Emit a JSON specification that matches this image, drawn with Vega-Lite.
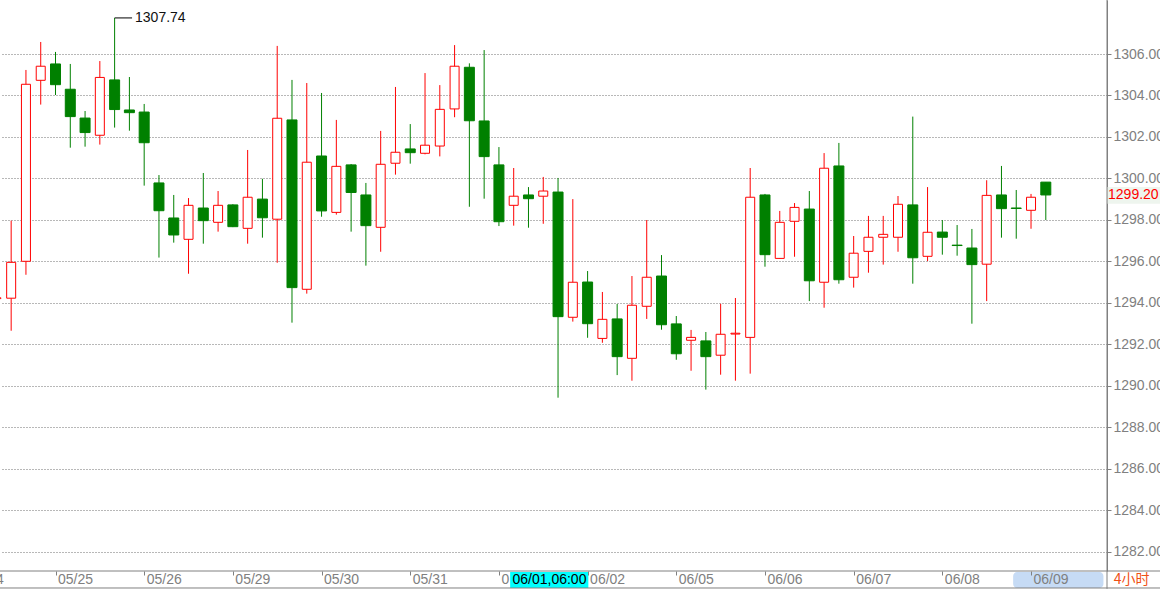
{
  "$schema": "https://vega.github.io/schema/vega-lite/v6.json",
  "width": 1107,
  "height": 571,
  "autosize": {"type": "none"},
  "padding": {"left": 0, "top": 0, "right": 53, "bottom": 18},
  "background": "white",
  "config": {"view": {"stroke": null}, "font": "Liberation Sans"},
  "datasets": {
    "candles": [
      {"i": -4, "o": 1294.20, "h": 1294.40, "l": 1294.00, "c": 1294.24},
      {"i": -3, "o": 1294.22, "h": 1297.96, "l": 1292.65, "c": 1295.95},
      {"i": -2, "o": 1296.00, "h": 1305.23, "l": 1295.35, "c": 1304.54},
      {"i": -1, "o": 1304.73, "h": 1306.58, "l": 1303.56, "c": 1305.41},
      {"i": 0, "o": 1305.52, "h": 1306.10, "l": 1304.02, "c": 1304.52},
      {"i": 1, "o": 1304.30, "h": 1305.52, "l": 1301.48, "c": 1302.98},
      {"i": 2, "o": 1302.91, "h": 1303.25, "l": 1301.53, "c": 1302.21},
      {"i": 3, "o": 1302.08, "h": 1305.66, "l": 1301.63, "c": 1304.87},
      {"i": 4, "o": 1304.75, "h": 1307.74, "l": 1302.45, "c": 1303.32},
      {"i": 5, "o": 1303.30, "h": 1304.89, "l": 1302.30, "c": 1303.17},
      {"i": 6, "o": 1303.20, "h": 1303.59, "l": 1299.65, "c": 1301.72},
      {"i": 7, "o": 1299.78, "h": 1300.16, "l": 1296.18, "c": 1298.44},
      {"i": 8, "o": 1298.09, "h": 1299.20, "l": 1296.90, "c": 1297.27},
      {"i": 9, "o": 1297.06, "h": 1299.05, "l": 1295.40, "c": 1298.70},
      {"i": 10, "o": 1298.57, "h": 1300.26, "l": 1296.85, "c": 1297.96},
      {"i": 11, "o": 1297.88, "h": 1299.39, "l": 1297.43, "c": 1298.70},
      {"i": 12, "o": 1298.72, "h": 1298.75, "l": 1297.65, "c": 1297.67},
      {"i": 13, "o": 1297.59, "h": 1301.37, "l": 1296.85, "c": 1299.09},
      {"i": 14, "o": 1299.00, "h": 1299.98, "l": 1297.14, "c": 1298.10},
      {"i": 15, "o": 1298.03, "h": 1306.39, "l": 1295.93, "c": 1302.90},
      {"i": 16, "o": 1302.82, "h": 1304.75, "l": 1293.04, "c": 1294.73},
      {"i": 17, "o": 1294.65, "h": 1304.60, "l": 1294.44, "c": 1300.78},
      {"i": 18, "o": 1301.08, "h": 1304.12, "l": 1298.15, "c": 1298.43},
      {"i": 19, "o": 1298.36, "h": 1302.82, "l": 1298.25, "c": 1300.58},
      {"i": 20, "o": 1300.65, "h": 1300.69, "l": 1297.43, "c": 1299.32},
      {"i": 21, "o": 1299.20, "h": 1299.78, "l": 1295.79, "c": 1297.72},
      {"i": 22, "o": 1297.64, "h": 1302.29, "l": 1296.46, "c": 1300.68},
      {"i": 23, "o": 1300.73, "h": 1304.41, "l": 1300.18, "c": 1301.26},
      {"i": 24, "o": 1301.42, "h": 1302.62, "l": 1300.71, "c": 1301.24},
      {"i": 25, "o": 1301.21, "h": 1305.08, "l": 1301.16, "c": 1301.60},
      {"i": 26, "o": 1301.56, "h": 1304.50, "l": 1301.06, "c": 1303.33},
      {"i": 27, "o": 1303.35, "h": 1306.43, "l": 1302.95, "c": 1305.41},
      {"i": 28, "o": 1305.36, "h": 1305.55, "l": 1298.63, "c": 1302.78},
      {"i": 29, "o": 1302.77, "h": 1306.19, "l": 1299.02, "c": 1301.05},
      {"i": 30, "o": 1300.65, "h": 1301.51, "l": 1297.70, "c": 1297.91},
      {"i": 31, "o": 1298.70, "h": 1300.50, "l": 1297.72, "c": 1299.14},
      {"i": 32, "o": 1299.20, "h": 1299.58, "l": 1297.62, "c": 1299.02},
      {"i": 33, "o": 1299.14, "h": 1300.07, "l": 1297.81, "c": 1299.39},
      {"i": 34, "o": 1299.34, "h": 1300.02, "l": 1289.42, "c": 1293.33},
      {"i": 35, "o": 1293.30, "h": 1299.00, "l": 1293.09, "c": 1294.99},
      {"i": 36, "o": 1295.00, "h": 1295.53, "l": 1292.31, "c": 1292.99},
      {"i": 37, "o": 1292.28, "h": 1294.52, "l": 1292.07, "c": 1293.20},
      {"i": 38, "o": 1293.22, "h": 1293.94, "l": 1290.51, "c": 1291.40},
      {"i": 39, "o": 1291.32, "h": 1295.29, "l": 1290.24, "c": 1293.88},
      {"i": 40, "o": 1293.83, "h": 1297.99, "l": 1293.22, "c": 1295.23},
      {"i": 41, "o": 1295.29, "h": 1296.30, "l": 1292.70, "c": 1292.94},
      {"i": 42, "o": 1292.98, "h": 1293.36, "l": 1291.25, "c": 1291.54},
      {"i": 43, "o": 1292.19, "h": 1292.69, "l": 1290.72, "c": 1292.33},
      {"i": 44, "o": 1292.16, "h": 1292.59, "l": 1289.81, "c": 1291.40},
      {"i": 45, "o": 1291.47, "h": 1293.95, "l": 1290.53, "c": 1292.48},
      {"i": 46, "o": 1292.49, "h": 1294.23, "l": 1290.24, "c": 1292.53},
      {"i": 47, "o": 1292.33, "h": 1300.50, "l": 1290.58, "c": 1299.09},
      {"i": 48, "o": 1299.20, "h": 1299.25, "l": 1295.74, "c": 1296.32},
      {"i": 49, "o": 1296.14, "h": 1298.43, "l": 1296.12, "c": 1297.88},
      {"i": 50, "o": 1297.93, "h": 1298.81, "l": 1296.22, "c": 1298.60},
      {"i": 51, "o": 1298.52, "h": 1299.39, "l": 1294.08, "c": 1295.06},
      {"i": 52, "o": 1294.99, "h": 1301.22, "l": 1293.76, "c": 1300.49},
      {"i": 53, "o": 1300.60, "h": 1301.71, "l": 1294.92, "c": 1295.11},
      {"i": 54, "o": 1295.23, "h": 1297.22, "l": 1294.73, "c": 1296.39},
      {"i": 55, "o": 1296.48, "h": 1298.19, "l": 1295.45, "c": 1297.16},
      {"i": 56, "o": 1297.16, "h": 1298.19, "l": 1295.84, "c": 1297.30},
      {"i": 57, "o": 1297.16, "h": 1299.15, "l": 1296.46, "c": 1298.75},
      {"i": 58, "o": 1298.72, "h": 1302.98, "l": 1294.92, "c": 1296.17},
      {"i": 59, "o": 1296.24, "h": 1299.58, "l": 1296.01, "c": 1297.40},
      {"i": 60, "o": 1297.41, "h": 1297.99, "l": 1296.32, "c": 1297.16},
      {"i": 61, "o": 1296.78, "h": 1297.75, "l": 1296.27, "c": 1296.76},
      {"i": 62, "o": 1296.64, "h": 1297.56, "l": 1292.99, "c": 1295.84},
      {"i": 63, "o": 1295.86, "h": 1299.91, "l": 1294.08, "c": 1299.18},
      {"i": 64, "o": 1299.20, "h": 1300.60, "l": 1297.14, "c": 1298.54},
      {"i": 65, "o": 1298.57, "h": 1299.44, "l": 1297.09, "c": 1298.55},
      {"i": 66, "o": 1298.46, "h": 1299.25, "l": 1297.57, "c": 1299.09},
      {"i": 67, "o": 1299.82, "h": 1299.82, "l": 1297.99, "c": 1299.20}
    ]
  },
  "layer": [
    {
      "data": {"name": "candles"},
      "mark": {"type": "rule", "strokeWidth": 1},
      "encoding": {
        "x": {
          "field": "i", "type": "quantitative", "title": null,
          "scale": {"domain": [-3.755, 71.14], "nice": false, "zero": false, "padding": 0},
          "axis": {
            "orient": "bottom", "title": null,
            "values": [-6, 0, 6, 12, 18, 24, 30, 36, 42, 48, 54, 60, 66],
            "labelExpr": "['05/24','05/25','05/26','05/29','05/30','05/31','0','06/02','06/05','06/06','06/07','06/08','06/09'][(datum.value+6)/6]",
            "grid": false, "domain": false,
            "ticks": true, "tickColor": "#808080", "tickSize": 4, "tickWidth": 1,
            "labelAlign": "left", "labelBaseline": "middle", "labelPadding": 4.5, "labelOffset": 2,
            "labelFontSize": 14, "labelColor": "#808080", "labelFont": "Liberation Sans",
            "labelOverlap": false, "labelBound": false, "labelFlush": false,
            "zindex": 1
          }
        },
        "y": {
          "field": "l", "type": "quantitative", "title": null,
          "scale": {"domain": [1281.06, 1308.605], "nice": false, "zero": false, "padding": 0},
          "axis": {
            "orient": "right", "title": null,
            "values": [1282, 1284, 1286, 1288, 1290, 1292, 1294, 1296, 1298, 1300, 1302, 1304, 1306],
            "format": ".2f",
            "grid": true, "gridColor": "#707070", "gridDash": [1, 2], "gridWidth": 1,
            "domain": true, "domainColor": "#808080",
            "tickColor": "#808080", "tickSize": 4,
            "labelPadding": 2, "labelFontSize": 14, "labelColor": "#808080", "labelFont": "Liberation Sans",
            "labelBaseline": "middle", "labelOverlap": false, "labelBound": false, "labelFlush": false
          }
        },
        "y2": {"field": "h"},
        "color": {"condition": {"test": "datum.c >= datum.o", "value": "#ff0000"}, "value": "#008000"}
      }
    },
    {
      "data": {"name": "candles"},
      "mark": {"type": "bar", "strokeWidth": 1},
      "encoding": {
        "x": {"field": "i", "type": "quantitative", "title": null},
        "y": {"field": "o", "type": "quantitative", "title": null},
        "y2": {"field": "c"},
        "fill": {"condition": {"test": "datum.c >= datum.o", "value": "#ffffff"}, "value": "#008000"},
        "stroke": {"condition": {"test": "datum.c >= datum.o", "value": "#ff0000"}, "value": "#008000"},
        "size": {"condition": {"test": "datum.c >= datum.o", "value": 9}, "value": 10}
      }
    },
    {
      "data": {"values": [{"x1": 4, "x2": 5.18, "p": 1307.74}]},
      "mark": {"type": "rule", "color": "#000000", "strokeWidth": 1},
      "encoding": {
        "x": {"field": "x1", "type": "quantitative", "title": null},
        "x2": {"field": "x2"},
        "y": {"field": "p", "type": "quantitative", "title": null}
      }
    },
    {
      "data": {"values": [{"x": 5.38, "p": 1307.74, "t": "1307.74"}]},
      "mark": {"type": "text", "align": "left", "baseline": "middle", "fontSize": 14, "font": "Liberation Sans", "color": "#111111"},
      "encoding": {
        "x": {"field": "x", "type": "quantitative", "title": null},
        "y": {"field": "p", "type": "quantitative", "title": null},
        "text": {"field": "t"}
      }
    },
    {
      "data": {"values": [{"x1": 71.15, "x2": 74.8, "p1": 1299.58, "p2": 1298.78}]},
      "mark": {"type": "rect", "color": "#eef5ee"},
      "encoding": {
        "x": {"field": "x1", "type": "quantitative", "title": null},
        "x2": {"field": "x2"},
        "y": {"field": "p1", "type": "quantitative", "title": null},
        "y2": {"field": "p2"}
      }
    },
    {
      "data": {"values": [{"x": 71.21, "p": 1299.2, "t": "1299.20"}]},
      "mark": {"type": "text", "align": "left", "baseline": "middle", "fontSize": 14, "font": "Liberation Sans", "color": "#ff0000"},
      "encoding": {
        "x": {"field": "x", "type": "quantitative", "title": null},
        "y": {"field": "p", "type": "quantitative", "title": null},
        "text": {"field": "t"}
      }
    },
    {
      "data": {"values": [
        {"x1": 30.76, "x2": 36.05, "p1": 1281.01, "p2": 1280.24, "k": "cursor"}
      ]},
      "mark": {"type": "rect", "color": "#00ffff"},
      "encoding": {
        "x": {"field": "x1", "type": "quantitative", "title": null},
        "x2": {"field": "x2"},
        "y": {"field": "p1", "type": "quantitative", "title": null},
        "y2": {"field": "p2"}
      }
    },
    {
      "data": {"values": [
        {"x1": 64.79, "x2": 70.9, "p1": 1281.01, "p2": 1280.24, "k": "current"}
      ]},
      "mark": {"type": "rect", "color": "#c6dbf5", "cornerRadius": 4},
      "encoding": {
        "x": {"field": "x1", "type": "quantitative", "title": null},
        "x2": {"field": "x2"},
        "y": {"field": "p1", "type": "quantitative", "title": null},
        "y2": {"field": "p2"}
      }
    },
    {
      "data": {"values": [{"x": 33.42, "p": 1280.64, "t": "06/01,06:00"}]},
      "mark": {"type": "text", "align": "center", "baseline": "middle", "fontSize": 14, "font": "Liberation Sans", "color": "#000000"},
      "encoding": {
        "x": {"field": "x", "type": "quantitative", "title": null},
        "y": {"field": "p", "type": "quantitative", "title": null},
        "text": {"field": "t"}
      }
    },
    {
      "data": {"values": [{"x": -5.865, "p": 1280.64, "t": "05/24"}]},
      "mark": {"type": "text", "align": "left", "baseline": "middle", "fontSize": 14, "font": "Liberation Sans", "color": "#808080"},
      "encoding": {
        "x": {"field": "x", "type": "quantitative", "title": null},
        "y": {"field": "p", "type": "quantitative", "title": null},
        "text": {"field": "t"}
      }
    },
    {
      "data": {"values": [{"x": 72.8, "p": 1280.64, "t": "4小时"}]},
      "mark": {"type": "text", "align": "center", "baseline": "middle", "fontSize": 14, "font": "Noto Sans CJK SC", "color": "#f05014"},
      "encoding": {
        "x": {"field": "x", "type": "quantitative", "title": null},
        "y": {"field": "p", "type": "quantitative", "title": null},
        "text": {"field": "t"}
      }
    },
    {
      "data": {"values": [
        {"x1": -3.755, "x2": 74.8, "p": 1281.06},
        {"x1": -3.755, "x2": 74.8, "p": 1280.24}
      ]},
      "mark": {"type": "rule", "color": "#808080", "strokeWidth": 1},
      "encoding": {
        "x": {"field": "x1", "type": "quantitative", "title": null},
        "x2": {"field": "x2"},
        "y": {"field": "p", "type": "quantitative", "title": null}
      }
    },
    {
      "data": {"values": [{"x": 71.14, "p1": 1280.2, "p2": 1308.605}]},
      "mark": {"type": "rule", "color": "#808080", "strokeWidth": 1},
      "encoding": {
        "x": {"field": "x", "type": "quantitative", "title": null},
        "y": {"field": "p1", "type": "quantitative", "title": null},
        "y2": {"field": "p2"}
      }
    }
  ]
}
